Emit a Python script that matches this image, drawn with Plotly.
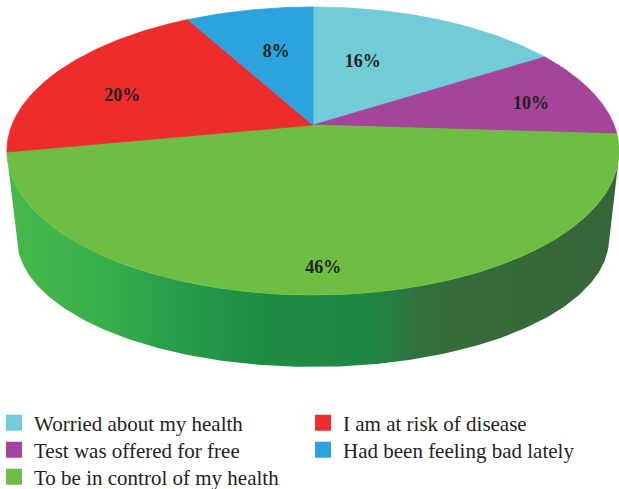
import numpy as np
import plotly.graph_objects as go

# ---------------- data ----------------
categories = ["Worried about my health", "Test was offered for free",
              "To be in control of my health", "I am at risk of disease",
              "Had been feeling bad lately"]
values = [16, 10, 46, 20, 8]
value_labels = ["16%", "10%", "46%", "20%", "8%"]
legend_rows = [["Worried about my health", "I am at risk of disease"],
               ["Test was offered for free", "Had been feeling bad lately"],
               ["To be in control of my health"]]

# ---------------- style ----------------
top_colors = {
    "Worried about my health": "#72CCD8",
    "Test was offered for free": "#A4449B",
    "To be in control of my health": "#6EBE44",
    "I am at risk of disease": "#EE2C2C",
    "Had been feeling bad lately": "#2CA3DC",
}
wall_scales = {
    "To be in control of my health": [[0, "#46b84c"], [0.15, "#39b04b"], [0.3, "#26994a"],
                                      [0.42, "#1f8c45"], [0.6, "#1f8644"], [0.68, "#326f3d"],
                                      [0.75, "#376b3a"], [1, "#35663a"]],
}
label_radius = [0.52, 0.76, 0.87, 0.69, 0.59]
label_shift_deg = [-8.6, 2.7, 1.7, -7.5, 1.2]
TEXT = "#231f20"
FONT = "Liberation Serif"

W, Hpx = 619, 489
CX, CY = 313, 125           # pie apex on screen
F, D = 1478.0, 4.909        # perspective camera
ALPHA = np.radians(27.56)
KX, KY, HOFF = 0.967, 0.89, 90.6   # side (thickness) projection
LEGEND_ROW_Y = [423, 450, 477]


def top_pt(theta, r=1.0):
    X = r * np.sin(theta)
    Z = r * np.cos(theta)
    w = D + Z * np.cos(ALPHA)
    v = Z * np.sin(ALPHA)
    return CX + F * X / w, CY - F * v / w


def bottom_pt(theta):
    x, y = top_pt(theta)
    return CX + KX * (x - CX), CY + KY * (y - CY) + HOFF


# visible wall range (silhouettes)
grid = np.linspace(0, 2 * np.pi, 3601)
eps = 1e-4
tx1, ty1 = top_pt(grid + eps)
tx0, ty0 = top_pt(grid - eps)
tx, ty = top_pt(grid)
bx, by = bottom_pt(grid)
cross = (tx1 - tx0) * (by - ty) - (ty1 - ty0) * (bx - tx)
vis = cross < 0
idx_front = np.argmin(np.abs(grid - np.pi))
lo_i = idx_front
while lo_i > 0 and vis[lo_i - 1]:
    lo_i -= 1
hi_i = idx_front
while hi_i < len(grid) - 1 and vis[hi_i + 1]:
    hi_i += 1
TH_R, TH_L = grid[lo_i], grid[hi_i]

fig = go.Figure()

total = sum(values)
bounds = np.concatenate([[0], np.cumsum(values)]) / total * 2 * np.pi

# walls
for i, cat in enumerate(categories):
    a, b = bounds[i], bounds[i + 1]
    lo, hi = max(a, TH_R), min(b, TH_L)
    if hi <= lo:
        continue
    th = np.linspace(lo, hi, 200)
    xt, yt = top_pt(th)
    xb, yb = bottom_pt(th[::-1])
    xs = np.concatenate([xt, xb, xt[:1]])
    ys = np.concatenate([yt, yb, yt[:1]])
    scale = wall_scales.get(cat)
    kw = {}
    if scale:
        kw["fillgradient"] = dict(type="horizontal", colorscale=scale)
    fig.add_trace(go.Scatter(x=xs, y=ys, mode="lines", fill="toself",
                             fillcolor=top_colors[cat], line=dict(width=0),
                             hoverinfo="skip", showlegend=False, **kw))

# top faces
for i, cat in enumerate(categories):
    a, b = bounds[i], bounds[i + 1]
    n = max(int((b - a) / (2 * np.pi) * 720), 8)
    th = np.linspace(a, b, n)
    xa, ya = top_pt(th)
    xs = np.concatenate([[CX], xa, [CX]])
    ys = np.concatenate([[CY], ya, [CY]])
    fig.add_trace(go.Scatter(x=xs, y=ys, mode="lines", fill="toself",
                             fillcolor=top_colors[cat],
                             line=dict(width=0.8, color=top_colors[cat]),
                             hoverinfo="skip", showlegend=False))

# labels
for i, cat in enumerate(categories):
    mid = (bounds[i] + bounds[i + 1]) / 2 + np.radians(label_shift_deg[i])
    lx, ly = top_pt(mid, label_radius[i])
    fig.add_trace(go.Scatter(x=[lx], y=[ly], mode="text", text=[value_labels[i]],
                             textfont=dict(family=FONT, size=18, color=TEXT, weight="bold"),
                             hoverinfo="skip", showlegend=False))

# legend entries (one legend per row, two columns)
legend_layouts = {}
for r, row in enumerate(legend_rows):
    lname = "legend" if r == 0 else f"legend{r + 1}"
    for cat in row:
        fig.add_trace(go.Scatter(x=[None], y=[None], mode="markers", name=cat,
                                 legend=lname,
                                 marker=dict(symbol="square", size=16, color=top_colors[cat],
                                             line=dict(width=0))))
    legend_layouts[lname] = dict(
        orientation="h", x=0, y=1 - LEGEND_ROW_Y[r] / Hpx,
        xanchor="left", yanchor="middle", indentation=-6,
        entrywidth=270, entrywidthmode="pixels", traceorder="normal",
        font=dict(family=FONT, size=21, color=TEXT), bgcolor="rgba(0,0,0,0)")

fig.update_layout(
    width=W, height=Hpx,
    margin=dict(l=0, r=0, t=0, b=0, autoexpand=False),
    paper_bgcolor="white", plot_bgcolor="white",
    xaxis=dict(range=[0, W], visible=False, fixedrange=True),
    yaxis=dict(range=[Hpx, 0], visible=False, fixedrange=True),
    showlegend=True,
    **legend_layouts,
)

fig.write_html("out.html", config={"displayModeBar": False},
               post_script="document.body.style.margin='0px';")
